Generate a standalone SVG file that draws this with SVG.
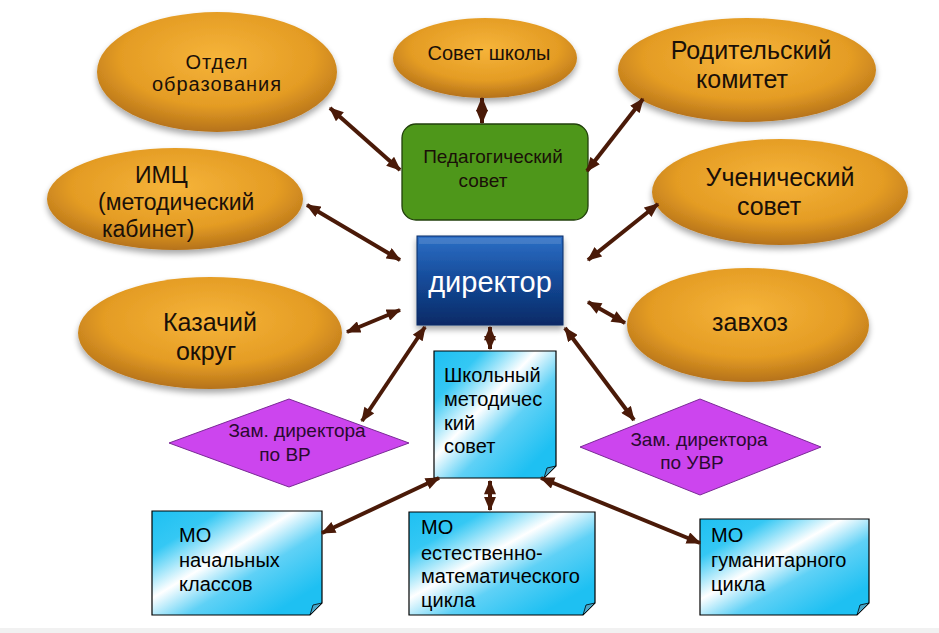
<svg xmlns="http://www.w3.org/2000/svg" width="939" height="633" viewBox="0 0 939 633">
<defs>
<style>
.oval{fill:url(#gold);filter:url(#sh);}
.otx{font-family:"Liberation Sans",Arial,sans-serif;fill:#1a1008;}
.btx{font-family:"Liberation Sans",Arial,sans-serif;fill:#000;font-size:20px;}
.dia{fill:#cc45ee;stroke:#7a2a96;stroke-width:1;}
.dtx{font-family:"Liberation Sans",Arial,sans-serif;fill:#2a0a2e;font-size:19px;text-anchor:middle;}
.note{fill:url(#cyan);stroke:#000;stroke-width:1.2;}
.fold{fill:#4aa6c8;stroke:#000;stroke-width:0.8;}
.conn line{stroke:#4a1a08;stroke-width:4;marker-start:url(#ah);marker-end:url(#ah);}
.mid{text-anchor:middle;}
</style>
<radialGradient id="gold" cx="50%" cy="38%" r="62%">
<stop offset="0" stop-color="#f6b43a"/>
<stop offset="0.65" stop-color="#e49c24"/>
<stop offset="1" stop-color="#b5721a"/>
</radialGradient>
<linearGradient id="cyan" x1="0" y1="0" x2="1" y2="1">
<stop offset="0" stop-color="#1ec0f2"/>
<stop offset="0.2" stop-color="#35c8f4"/>
<stop offset="0.42" stop-color="#ffffff"/>
<stop offset="0.6" stop-color="#5fd1f6"/>
<stop offset="0.85" stop-color="#1ec0f2"/>
<stop offset="1" stop-color="#1ec0f2"/>
</linearGradient>
<linearGradient id="blue" x1="0" y1="0" x2="0" y2="1">
<stop offset="0" stop-color="#2d6fc6"/>
<stop offset="0.5" stop-color="#144a98"/>
<stop offset="1" stop-color="#0a2a66"/>
</linearGradient>
<filter id="sh" x="-20%" y="-20%" width="140%" height="150%">
<feGaussianBlur in="SourceAlpha" stdDeviation="3"/>
<feOffset dx="0" dy="4" result="b"/>
<feComponentTransfer><feFuncA type="linear" slope="0.35"/></feComponentTransfer>
<feMerge><feMergeNode/><feMergeNode in="SourceGraphic"/></feMerge>
</filter>
<marker id="ah" viewBox="0 0 12 10" refX="11" refY="5" markerWidth="15" markerHeight="12" markerUnits="userSpaceOnUse" orient="auto-start-reverse">
<path d="M0,0 L12,5 L0,10 Z" fill="#4a1a08"/>
</marker>
</defs>
<rect x="0" y="0" width="939" height="633" fill="#ffffff"/>
<rect x="0" y="628" width="939" height="5" fill="#f1f1f1"/>

<g id="otdel"><ellipse class="oval" cx="217" cy="72" rx="120" ry="60"/>
<text class="otx mid" x="217" y="69" font-size="20" letter-spacing="1">Отдел</text>
<text class="otx mid" x="217" y="91" font-size="20" letter-spacing="1">образования</text></g>

<g id="sovet-shkoly"><ellipse class="oval" cx="485" cy="58" rx="92" ry="40"/>
<text class="otx mid" x="489" y="60" font-size="20">Совет школы</text></g>

<g id="roditelsky"><ellipse class="oval" cx="747" cy="70" rx="129" ry="52"/>
<text class="otx mid" x="751" y="59" font-size="25">Родительский</text>
<text class="otx mid" x="742" y="88" font-size="25">комитет</text></g>

<g id="imc"><ellipse class="oval" cx="175" cy="199" rx="128" ry="51"/>
<text class="otx" x="135" y="183" font-size="23">ИМЦ</text>
<text class="otx" x="98" y="210" font-size="23">(методический</text>
<text class="otx" x="102" y="237" font-size="23">кабинет)</text></g>

<g id="uchenichesky"><ellipse class="oval" cx="780" cy="192" rx="128" ry="53"/>
<text class="otx mid" x="780" y="186" font-size="25">Ученический</text>
<text class="otx mid" x="769" y="215" font-size="25">совет</text></g>

<g id="kazachiy"><ellipse class="oval" cx="210" cy="333" rx="132" ry="56"/>
<text class="otx mid" x="210" y="331" font-size="25">Казачий</text>
<text class="otx mid" x="206" y="360" font-size="25">округ</text></g>

<g id="zavhoz"><ellipse class="oval" cx="748" cy="325" rx="121" ry="57"/>
<text class="otx mid" x="750" y="331" font-size="25">завхоз</text></g>

<g id="ped-sovet"><rect x="402" y="124" width="186" height="96" rx="14" fill="#4e971a" stroke="#22400c" stroke-width="1.3"/>
<text class="otx mid" x="493" y="163" font-size="19">Педагогический</text>
<text class="otx mid" x="483" y="187" font-size="19">совет</text></g>

<g id="director"><rect x="417" y="236" width="146" height="89" fill="url(#blue)" stroke="#0a2a66" stroke-width="1" filter="url(#sh)"/>
<rect x="419" y="238" width="142" height="6" fill="#ffffff" opacity="0.12"/>
<text class="mid" x="490" y="292" font-family="Liberation Sans, Arial, sans-serif" font-size="29" fill="#ffffff">директор</text></g>

<g id="zam-vr"><polygon class="dia" points="169,443 289,399 409,443 289,487"/>
<text class="dtx" x="297" y="437">Зам. директора</text>
<text class="dtx" x="285" y="461">по ВР</text></g>

<g id="zam-uvr"><polygon class="dia" points="580,447 700,399 821,447 700,495"/>
<text class="dtx" x="699" y="446">Зам. директора</text>
<text class="dtx" x="692" y="469">по УВР</text></g>

<g id="shmo"><path class="note" d="M434,351 H556 V466 L544,478 H434 Z"/>
<path class="fold" d="M556,466 L547,468 L544,478 Z"/>
<text class="btx" x="444" y="382">Школьный</text>
<text class="btx" x="444" y="406">методичес</text>
<text class="btx" x="444" y="430">кий</text>
<text class="btx" x="444" y="453">совет</text></g>

<g id="mo-nach"><path class="note" d="M152,511 H322 V603 L310,615 H152 Z"/>
<path class="fold" d="M322,603 L313,605 L310,615 Z"/>
<text class="btx" x="179" y="542">МО</text>
<text class="btx" x="179" y="567">начальных</text>
<text class="btx" x="179" y="591">классов</text></g>

<g id="mo-est"><path class="note" d="M409,512 H595 V603 L583,615 H409 Z"/>
<path class="fold" d="M595,603 L586,605 L583,615 Z"/>
<text class="btx" x="421" y="534">МО</text>
<text class="btx" x="421" y="560">естественно-</text>
<text class="btx" x="421" y="583">математического</text>
<text class="btx" x="421" y="607">цикла</text></g>

<g id="mo-gum"><path class="note" d="M700,519 H869 V603 L857,615 H700 Z"/>
<path class="fold" d="M869,603 L860,605 L857,615 Z"/>
<text class="btx" x="711" y="542">МО</text>
<text class="btx" x="711" y="567">гуманитарного</text>
<text class="btx" x="711" y="591">цикла</text></g>

<g id="connectors" class="conn">
<line x1="330" y1="108" x2="400" y2="170"/>
<line x1="307" y1="205" x2="400" y2="260"/>
<line x1="347" y1="332" x2="400" y2="310"/>
<line x1="482" y1="98" x2="482" y2="123"/>
<line x1="643" y1="99" x2="587" y2="171"/>
<line x1="658" y1="204" x2="588" y2="260"/>
<line x1="588" y1="302" x2="625" y2="323"/>
<line x1="425" y1="327" x2="362" y2="421"/>
<line x1="565" y1="328" x2="634" y2="420"/>
<line x1="490" y1="327" x2="490" y2="349"/>
<line x1="439" y1="478" x2="322" y2="533"/>
<line x1="490" y1="481" x2="490" y2="510"/>
<line x1="541" y1="478" x2="700" y2="543"/>
</g>
</svg>
